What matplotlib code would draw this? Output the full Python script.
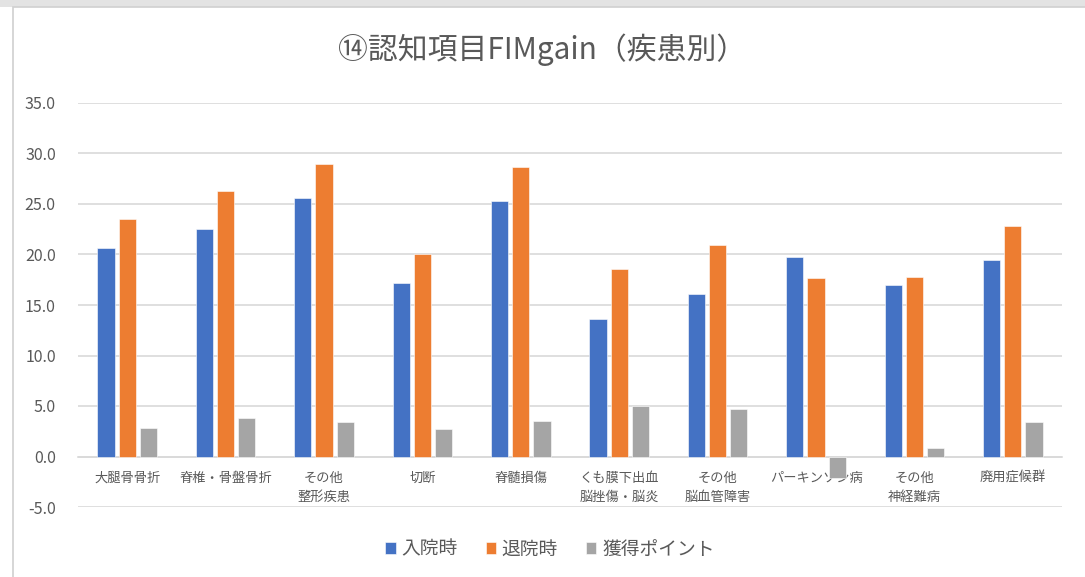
import matplotlib
matplotlib.use("Agg")
import matplotlib.pyplot as plt
import numpy as np
from matplotlib.patches import Rectangle

plt.rcParams['font.family'] = ['Noto Sans CJK JP', 'DejaVu Sans']

categories = ["大腿骨骨折", "脊椎・骨盤骨折", "その他\n整形疾患", "切断", "脊髄損傷",
              "くも膜下出血\n脳挫傷・脳炎", "その他\n脳血管障害", "パーキンソン病",
              "その他\n神経難病", "廃用症候群"]
admission = [20.6, 22.5, 25.6, 17.2, 25.3, 13.6, 16.1, 19.8, 17.0, 19.5]
discharge = [23.5, 26.3, 29.0, 20.0, 28.7, 18.6, 20.9, 17.7, 17.8, 22.8]
gain = [2.8, 3.8, 3.4, 2.7, 3.5, 5.0, 4.7, -2.1, 0.8, 3.4]
series_names = ["入院時", "退院時", "獲得ポイント"]
colors = ["#4472C4", "#ED7D31", "#A5A5A5"]
yticks = [-5, 0, 5, 10, 15, 20, 25, 30, 35]

W, H = 1085, 577
fig = plt.figure(figsize=(W/100, H/100), dpi=100)
fig.patch.set_facecolor("white")

# outer frame
fig.patches.append(Rectangle((0, 1 - 7/H), 1, 7/H, transform=fig.transFigure,
                             facecolor="#e3e3e3", edgecolor="none", zorder=-2))
fig.patches.append(Rectangle((13/W, -0.05), 1.2, 1 - 7/H + 0.05, transform=fig.transFigure,
                             facecolor="white", edgecolor="#d0d0d0", linewidth=1.2, zorder=-1))

left, right = 78/W, 1062/W
bottom, top = 1 - 507/H, 1 - 103/H
ax = fig.add_axes([left, bottom, right - left, top - bottom])
ax.set_zorder(2)
ax.patch.set_alpha(0)

x = np.arange(len(categories))
bw = 0.175
off = 0.215
for i, (vals, c, n) in enumerate(zip([admission, discharge, gain], colors, series_names)):
    ax.bar(x + (i - 1) * off, vals, width=bw, color=c, label=n, zorder=3,
           edgecolor="white", linewidth=0.4)

ax.set_xlim(-0.5, len(categories) - 0.5)
ax.set_ylim(-5, 35)
ax.set_yticks(yticks)
ax.set_yticklabels([f"{v:.1f}" for v in yticks], fontsize=11.5, color="#595959")
ax.yaxis.grid(True, color="#d9d9d9", linewidth=1.2, zorder=0)
ax.set_axisbelow(True)
for s in ["top", "right", "left"]:
    ax.spines[s].set_visible(False)
ax.spines["bottom"].set_position(("data", 0))
ax.spines["bottom"].set_color("#d9d9d9")
ax.spines["bottom"].set_linewidth(1.2)
ax.set_xticks(x)
ax.set_xticklabels(categories, fontsize=9.5, color="#595959", linespacing=1.6)
ax.tick_params(axis="both", length=0)
ax.tick_params(axis="x", pad=11)
ax.tick_params(axis="y", pad=16)

fig.text(0.5, 1 - 50/H, "⑭認知項目FIMgain（疾患別）", ha="center", va="center",
         fontsize=21.5, color="#595959")

leg = ax.legend(loc="center", ncol=3, frameon=False, fontsize=13.5, handlelength=0.55,
                handleheight=0.55, handletextpad=0.3, columnspacing=1.5)
leg.set_bbox_to_anchor((550/W, 1 - 549/H), transform=fig.transFigure)
for t in leg.get_texts():
    t.set_color("#595959")

fig.savefig("out.png", dpi=100)
